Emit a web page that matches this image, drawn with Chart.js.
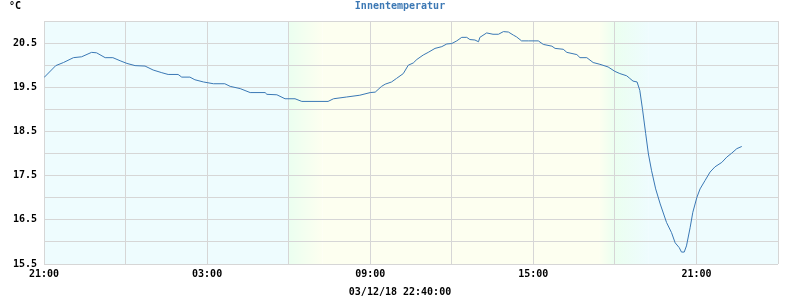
<!DOCTYPE html>
<html>
<head>
<meta charset="utf-8">
<script src="https://cdn.jsdelivr.net/npm/chart.js@4/dist/chart.umd.min.js"></script>
<style>
  html, body { margin: 0; padding: 0; background: #fff; }
  #wrap { width: 800px; height: 300px; }
</style>
</head>
<body>
<div id="wrap"><canvas id="chart"></canvas></div>
<script>
// minutes after 21:00 on 02/12/18
const minutes = [
  0, 26, 43, 65, 83, 105, 116, 135, 152, 168, 183, 201, 223, 241, 260, 274, 296, 304, 322, 333,
  352, 374, 399, 411, 433, 455, 488, 492, 514, 532, 554, 569, 627, 639, 668, 697, 720, 731, 745, 753,
  767, 778, 793, 804, 815, 823, 837, 848, 863, 878, 889, 900, 911, 922, 933, 940, 951, 959, 962, 977,
  991, 1003, 1014, 1025, 1036, 1043, 1054, 1069, 1091, 1102, 1121, 1128, 1146, 1154, 1176, 1183, 1198, 1212, 1227, 1245,
  1260, 1271, 1286, 1293, 1300, 1309, 1315, 1321, 1328, 1334, 1341, 1350, 1360, 1374, 1385, 1393, 1402, 1407, 1413, 1418,
  1426, 1432, 1441, 1448, 1459, 1470, 1481, 1496, 1507, 1518, 1529, 1540
];
const temps = [
  19.72, 19.99, 20.06, 20.17, 20.19, 20.29, 20.28, 20.17, 20.17, 20.10, 20.04, 19.99, 19.98, 19.89, 19.83, 19.79, 19.79, 19.73, 19.73, 19.67,
  19.62, 19.58, 19.58, 19.52, 19.47, 19.38, 19.38, 19.34, 19.33, 19.24, 19.24, 19.18, 19.18, 19.24, 19.28, 19.32, 19.38, 19.39, 19.52, 19.57,
  19.62, 19.70, 19.81, 20.00, 20.05, 20.13, 20.23, 20.29, 20.38, 20.42, 20.48, 20.49, 20.55, 20.63, 20.63, 20.58, 20.57, 20.53, 20.63, 20.73,
  20.70, 20.70, 20.76, 20.75, 20.68, 20.64, 20.55, 20.55, 20.55, 20.47, 20.43, 20.38, 20.36, 20.29, 20.24, 20.17, 20.17, 20.06, 20.02, 19.96,
  19.86, 19.81, 19.76, 19.70, 19.64, 19.62, 19.43, 19.00, 18.45, 17.99, 17.61, 17.20, 16.86, 16.44, 16.21, 15.98, 15.87, 15.77, 15.77, 15.91,
  16.32, 16.67, 17.01, 17.20, 17.39, 17.58, 17.70, 17.80, 17.92, 18.01, 18.11, 18.16
];
const xTickValues = [0, 360, 720, 1080, 1440];
const xTickLabels = ['21:00', '03:00', '09:00', '15:00', '21:00'];
const yTickLabels = ['15.5', '16.5', '17.5', '18.5', '19.5', '20.5'];
// day / night shading: [start, end, colour at start, colour at end]
const bands = [
  [0, 540, '#eefcfe', '#eefcfe'],
  [540, 615, '#ebfff0', '#fdfff0'],
  [615, 1225, '#fdfff0', '#fdfff0'],
  [1225, 1260, '#fdfff0', '#ebfff0'],
  [1260, 1335, '#ebfff0', '#eefcfe'],
  [1335, 1620, '#eefcfe', '#eefcfe']
];

const font = { family: 'DejaVu Sans Mono', size: 10, weight: 'bold' };

const shading = {
  id: 'shading',
  beforeDraw(chart) {
    const { ctx, chartArea: a, scales: { x } } = chart;
    ctx.save();
    bands.forEach(([s, e, c1, c2]) => {
      const x1 = x.getPixelForValue(s), x2 = x.getPixelForValue(e);
      const g = ctx.createLinearGradient(x1, 0, x2, 0);
      g.addColorStop(0, c1);
      g.addColorStop(1, c2);
      ctx.fillStyle = g;
      ctx.fillRect(x1, a.top, x2 - x1, a.bottom - a.top);
    });
    ctx.restore();
  },
  afterDraw(chart) {
    const ctx = chart.ctx;
    ctx.save();
    ctx.font = 'bold 10px "DejaVu Sans Mono"';
    ctx.fillStyle = '#000';
    ctx.textBaseline = 'middle';
    ctx.fillText('°C', 9, 6);
    ctx.restore();
  }
};

new Chart(document.getElementById('chart'), {
  type: 'line',
  data: {
    datasets: [{
      label: 'Innentemperatur',
      data: minutes.map((m, i) => ({ x: m, y: temps[i] })),
      borderColor: '#3a78b5',
      borderWidth: 1,
      pointRadius: 0,
      tension: 0,
      fill: false
    }]
  },
  options: {
    responsive: true,
    maintainAspectRatio: false,
    animation: false,
    layout: { padding: { left: 11, right: 11, top: 0, bottom: 0 } },
    plugins: {
      legend: { display: false },
      tooltip: { enabled: false },
      title: {
        display: true,
        text: 'Innentemperatur',
        color: '#3c78b4',
        font: font,
        padding: { top: 0, bottom: 9 }
      },
      subtitle: {
        display: true,
        position: 'bottom',
        text: '03/12/18 22:40:00',
        color: '#000',
        font: font,
        padding: { top: 0, bottom: 2 }
      }
    },
    scales: {
      x: {
        type: 'linear',
        min: 0,
        max: 1620,
        afterFit: s => { s.height = 22; },
        afterBuildTicks: s => { s.ticks = []; for (let v = 0; v <= 1620; v += 180) s.ticks.push({ value: v }); },
        ticks: {
          autoSkip: false,
          maxRotation: 0,
          padding: 4,
          color: '#000',
          font: font,
          callback: v => { const i = xTickValues.indexOf(v); return i >= 0 ? xTickLabels[i] : ''; }
        },
        grid: { color: '#d6d6d6', drawTicks: false },
        border: { display: false }
      },
      y: {
        min: 15.5,
        max: 21.0,
        afterFit: s => { s.width = 33; },
        ticks: {
          stepSize: 0.5,
          autoSkip: false,
          padding: 7,
          color: '#000',
          font: font,
          callback: v => { const t = v.toFixed(1); return yTickLabels.includes(t) ? t : ''; }
        },
        grid: { color: '#d6d6d6', drawTicks: false },
        border: { display: false }
      },
      // empty spacer on the right so the plot ends where the reference does
      yRight: {
        position: 'right',
        min: 15.5,
        max: 21.0,
        afterFit: s => { s.width = 11; },
        ticks: { display: false },
        grid: { display: false, drawTicks: false },
        border: { display: false }
      }
    }
  },
  plugins: [shading]
});
</script>
</body>
</html>
